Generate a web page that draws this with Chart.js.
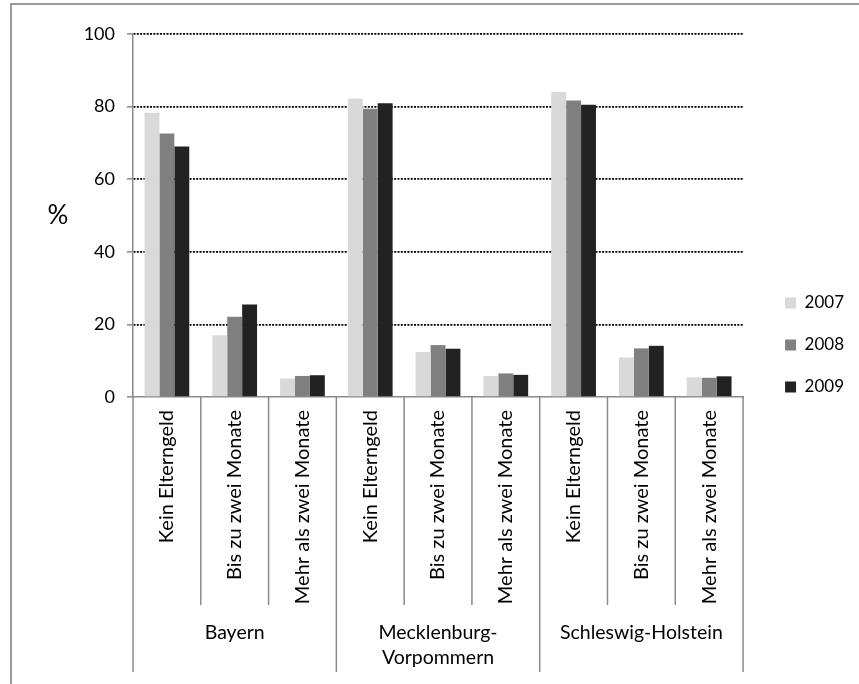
<!DOCTYPE html>
<html>
<head>
<meta charset="utf-8">
<script src="https://cdn.jsdelivr.net/npm/chart.js@4.4.1/dist/chart.umd.min.js"></script>
<style>
  html, body { margin: 0; padding: 0; background: #fff; overflow: hidden; }
  #rahmen { position: absolute; left: 10px; top: 3px; width: 900px; height: 720px;
            border-left: 2px solid #9a9a9a; border-top: 2px solid #9a9a9a; }
  #wrap { position: absolute; left: 0; top: 0; width: 859px; height: 684px; }
</style>
</head>
<body>
<div id="rahmen"></div>
<div id="wrap"><canvas id="grafik"></canvas></div>
<script>
const laender = [["Bayern"], ["Mecklenburg-", "Vorpommern"], ["Schleswig-Holstein"]];
const kategorien = ["Kein Elterngeld", "Bis zu zwei Monate", "Mehr als zwei Monate"];
const jahre = ["2007", "2008", "2009"];
const werte2007 = [78.3, 17.0, 5.1, 82.2, 12.4, 5.8, 84.0, 10.9, 5.4];
const werte2008 = [72.6, 22.1, 5.8, 79.4, 14.3, 6.5, 81.7, 13.4, 5.3];
const werte2009 = [69.0, 25.5, 6.0, 80.9, 13.3, 6.1, 80.5, 14.1, 5.7];
const yTicks = [0, 20, 40, 60, 80, 100];

const farben = ["#d9d9d9", "#808080", "#222222"];
const achsenGrau = "#8a8a8a";

Chart.defaults.font.family = "Lato";
Chart.defaults.color = "#000";

// Trennlinien, Laendernamen und das "%" unter bzw. neben der Achse
const gruppenPlugin = {
  id: "gruppen",
  afterDraw(chart) {
    const ctx = chart.ctx;
    const x = chart.scales.x;
    const y = chart.scales.y;
    const basis = y.getPixelForValue(0);
    const w = x.getPixelForValue(1) - x.getPixelForValue(0);
    const n = x.ticks.length;

    ctx.save();
    ctx.strokeStyle = achsenGrau;
    ctx.lineWidth = 1.5;
    for (let i = 0; i <= n; i++) {
      const px = (i < n ? x.getPixelForValue(i) : x.getPixelForValue(n - 1) + w) - w / 2;
      const ende = i % kategorien.length === 0 ? basis + 275 : basis + 208;
      ctx.beginPath();
      ctx.moveTo(px, basis);
      ctx.lineTo(px, ende);
      ctx.stroke();
    }

    ctx.fillStyle = "#000";
    ctx.font = "19.5px Lato";
    ctx.textAlign = "center";
    ctx.textBaseline = "middle";
    laender.forEach((zeilen, g) => {
      const mitte = x.getPixelForValue(g * kategorien.length + 1);
      zeilen.forEach((t, k) => ctx.fillText(t, mitte, basis + 236 + k * 25));
    });

    ctx.font = "26px Lato";
    ctx.fillText("%", 58, y.getPixelForValue(50));
    ctx.restore();
  }
};

new Chart(document.getElementById("grafik"), {
  type: "bar",
  data: {
    labels: laender.flatMap(() => kategorien),
    datasets: [
      { label: jahre[0], data: werte2007, backgroundColor: farben[0] },
      { label: jahre[1], data: werte2008, backgroundColor: farben[1] },
      { label: jahre[2], data: werte2009, backgroundColor: farben[2] }
    ]
  },
  options: {
    responsive: true,
    maintainAspectRatio: false,
    animation: false,
    devicePixelRatio: 1,
    layout: { padding: { top: 34, left: 0, right: 5, bottom: 28 } },
    datasets: { bar: { categoryPercentage: 0.66, barPercentage: 1.0, borderWidth: 0 } },
    scales: {
      x: {
        grid: { display: false, drawTicks: false },
        border: { display: true, color: achsenGrau, width: 1.5 },
        ticks: { autoSkip: false, minRotation: 90, maxRotation: 90, padding: 13,
                 font: { size: 20 }, color: "#000" },
        afterFit: s => { s.height = 259; }
      },
      y: {
        min: 0,
        max: 100,
        afterBuildTicks: s => { s.ticks = yTicks.map(v => ({ value: v })); },
        grid: {
          color: c => c.tick && c.tick.value === 0 ? "rgba(0,0,0,0)" : "#000",
          lineWidth: 1.7,
          tickColor: achsenGrau,
          tickBorderDash: [],
          tickLength: 6,
          tickWidth: 1.5
        },
        border: { color: achsenGrau, width: 1.5, dash: [2, 1.3] },
        ticks: { padding: 12, font: { size: 18 }, color: "#000" },
        afterFit: s => { s.width = 133; }
      },
      abstand: {
        type: "linear",
        position: "right",
        grid: { display: false },
        border: { display: false },
        ticks: { display: false },
        afterFit: s => { s.width = 17; }
      }
    },
    plugins: {
      legend: {
        position: "right",
        align: "center",
        labels: { boxWidth: 11, boxHeight: 11, padding: 25, color: "#000", font: { size: 17 } }
      },
      tooltip: { enabled: false }
    }
  },
  plugins: [gruppenPlugin]
});
</script>
</body>
</html>
